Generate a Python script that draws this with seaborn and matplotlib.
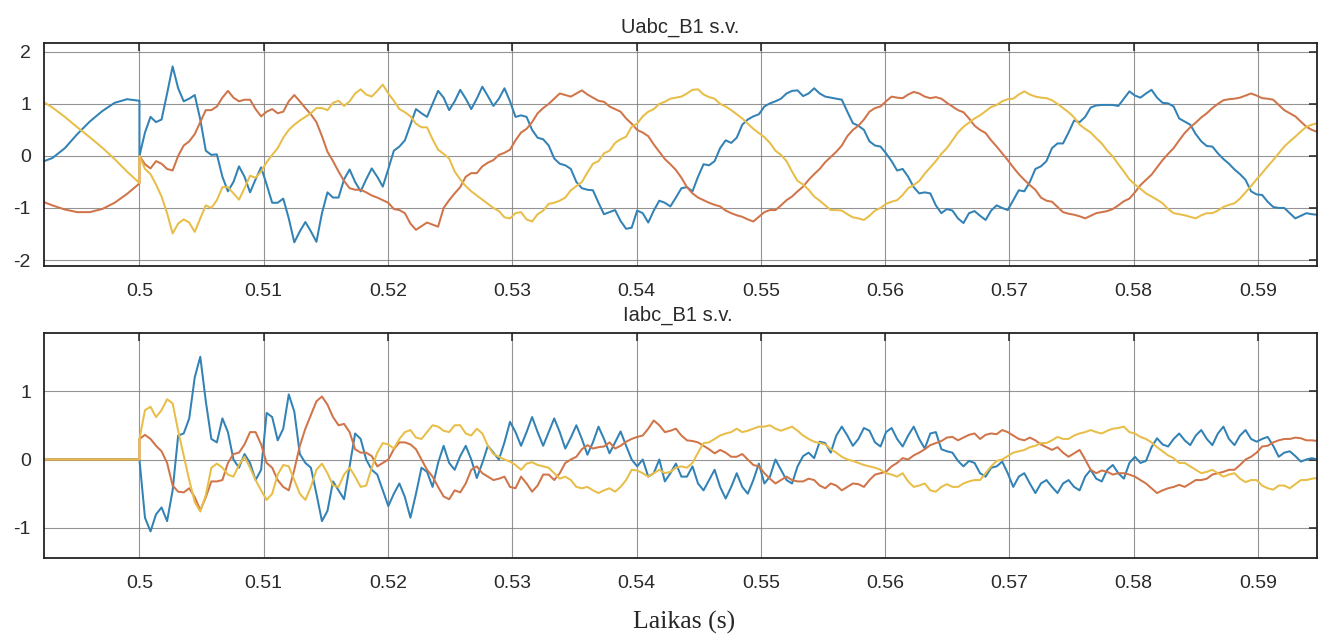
import numpy as np
import pandas as pd
import matplotlib
matplotlib.use("Agg")
import matplotlib.pyplot as plt
import seaborn as sns

# ---------------- data ----------------
# sample times before the event (s)
t_pre = [0.492, 0.493, 0.494, 0.495, 0.496, 0.497, 0.498, 0.499, 0.500]
# sample times after the event: regular 0.445 ms sampling starting at 0.5 s
STEP = 0.000445
N_POST = 214

# voltages before 0.5 s
ua_pre = [-0.13, -0.04, 0.15, 0.42, 0.66, 0.86, 1.02, 1.09, 1.06]
ub_pre = [-0.86, -0.95, -1.03, -1.08, -1.08, -1.02, -0.9, -0.73, -0.53]
uc_pre = [1.08, 0.93, 0.75, 0.55, 0.36, 0.16, -0.06, -0.3, -0.52]
# currents before 0.5 s
ia_pre = [0, 0, 0, 0, 0, 0, 0, 0, 0]
ib_pre = [0, 0, 0, 0, 0, 0, 0, 0, 0]
ic_pre = [0, 0, 0, 0, 0, 0, 0, 0, 0]

ua = [0.0, 0.45, 0.75, 0.65, 0.7, 1.2, 1.72, 1.3, 1.05, 1.1,
      1.17, 0.7, 0.1, 0.02, 0.03, -0.4, -0.68, -0.5, -0.2, -0.4,
      -0.7, -0.45, -0.22, -0.55, -0.9, -0.9, -0.82, -1.2, -1.66, -1.45,
      -1.27, -1.45, -1.65, -1.1, -0.7, -0.8, -0.8, -0.45, -0.26, -0.5,
      -0.68, -0.45, -0.24, -0.4, -0.59, -0.25, 0.1, 0.18, 0.3, 0.6,
      0.9, 0.82, 0.75, 1.0, 1.25, 1.12, 0.88, 1.05, 1.27, 1.1,
      0.9, 1.1, 1.33, 1.15, 0.96, 1.1, 1.3, 1.05, 0.75, 0.78,
      0.75, 0.5, 0.35, 0.32, 0.2, -0.05, -0.15, -0.18, -0.25, -0.5,
      -0.62, -0.65, -0.66, -0.9, -1.12, -1.08, -1.04, -1.25, -1.4, -1.38,
      -1.05, -1.1, -1.28, -1.05, -0.86, -0.9, -0.97, -0.8, -0.62, -0.6,
      -0.68, -0.4, -0.16, -0.18, -0.1, 0.15, 0.3, 0.25, 0.35, 0.6,
      0.7, 0.76, 0.8, 0.95, 1.01, 1.05, 1.1, 1.2, 1.25, 1.26,
      1.15, 1.2, 1.3, 1.2, 1.14, 1.12, 1.1, 1.08, 0.85, 0.63,
      0.58, 0.5, 0.28, 0.2, 0.18, 0.05, -0.1, -0.28, -0.25, -0.4,
      -0.6, -0.72, -0.7, -0.72, -0.95, -1.1, -1.02, -1.05, -1.2, -1.29,
      -1.1, -1.06, -1.15, -1.23, -1.05, -0.95, -1.0, -1.04, -0.85, -0.66,
      -0.68, -0.5, -0.25, -0.2, -0.1, 0.15, 0.24, 0.24, 0.45, 0.68,
      0.65, 0.75, 0.93, 0.97, 0.98, 0.98, 0.98, 0.96, 1.1, 1.24,
      1.16, 1.12, 1.2, 1.27, 1.12, 1.02, 1.01, 0.95, 0.72, 0.66,
      0.6, 0.42, 0.28, 0.19, 0.18, 0.05, -0.06, -0.15, -0.26, -0.35,
      -0.46, -0.68, -0.74, -0.75, -0.88, -0.98, -1.0, -1.0, -1.1, -1.2,
      -1.15, -1.1, -1.12, -1.13]

ub = [0.0, -0.16, -0.24, -0.1, -0.15, -0.25, -0.28, 0.0, 0.2, 0.28,
      0.42, 0.65, 0.88, 0.88, 0.95, 1.12, 1.25, 1.12, 1.05, 1.08,
      1.08, 0.9, 0.76, 0.85, 0.9, 0.82, 0.85, 1.05, 1.17, 1.05,
      0.92, 0.8, 0.65, 0.38, 0.08, -0.1, -0.3, -0.48, -0.62, -0.65,
      -0.65, -0.7, -0.76, -0.8, -0.85, -0.9, -1.02, -1.04, -1.1, -1.3,
      -1.42, -1.35, -1.28, -1.32, -1.36, -1.0, -0.85, -0.72, -0.6, -0.4,
      -0.33, -0.33, -0.2, -0.13, -0.08, 0.02, 0.06, 0.12, 0.3, 0.45,
      0.52, 0.65, 0.82, 0.92, 1.0, 1.1, 1.2, 1.17, 1.14, 1.2,
      1.26, 1.18, 1.12, 1.06, 1.04, 0.95, 0.9, 0.85, 0.72, 0.62,
      0.5, 0.45, 0.38, 0.22, 0.08, -0.06, -0.16, -0.27, -0.42, -0.6,
      -0.72, -0.8, -0.85, -0.9, -0.94, -0.97, -1.05, -1.1, -1.14, -1.17,
      -1.22, -1.26, -1.17, -1.08, -1.04, -1.04, -0.95, -0.85, -0.78, -0.68,
      -0.59, -0.46, -0.35, -0.25, -0.12, -0.02, 0.08, 0.2, 0.38, 0.5,
      0.58, 0.7, 0.85, 0.92, 0.95, 1.05, 1.14, 1.12, 1.11, 1.18,
      1.23, 1.2, 1.14, 1.11, 1.13, 1.1, 1.02, 0.95, 0.88, 0.84,
      0.72, 0.58, 0.5, 0.44, 0.3, 0.18, 0.05, -0.08, -0.22, -0.35,
      -0.46, -0.56, -0.65, -0.8, -0.86, -0.88, -0.98, -1.08, -1.11, -1.13,
      -1.16, -1.2, -1.15, -1.1, -1.08, -1.06, -1.02, -0.95, -0.87, -0.82,
      -0.7, -0.56, -0.46, -0.36, -0.22, -0.08, 0.04, 0.15, 0.3, 0.44,
      0.55, 0.64, 0.74, 0.82, 0.92, 1.0, 1.07, 1.09, 1.1, 1.12,
      1.16, 1.2, 1.16, 1.11, 1.1, 1.08, 0.98, 0.88, 0.82, 0.76,
      0.66, 0.56, 0.5, 0.46]

uc = [0.0, -0.25, -0.35, -0.55, -0.78, -1.1, -1.49, -1.3, -1.22, -1.28,
      -1.46, -1.2, -0.95, -1.0, -0.85, -0.6, -0.6, -0.72, -0.84, -0.62,
      -0.38, -0.42, -0.3, -0.12, 0.02, 0.15, 0.35, 0.5, 0.6, 0.68,
      0.75, 0.82, 0.92, 0.92, 0.88, 1.02, 1.06, 0.96, 1.05, 1.2,
      1.28, 1.18, 1.14, 1.25, 1.37, 1.2, 1.06, 0.9, 0.84, 0.76,
      0.62, 0.55, 0.55, 0.32, 0.12, 0.04, -0.05, -0.3, -0.45, -0.58,
      -0.68, -0.76, -0.84, -0.92, -1.0, -1.06, -1.18, -1.2, -1.1, -1.08,
      -1.22, -1.26, -1.12, -1.05, -0.92, -0.9, -0.86, -0.8, -0.66, -0.58,
      -0.5, -0.32, -0.15, -0.1, 0.05, 0.1, 0.25, 0.32, 0.37, 0.56,
      0.62, 0.76, 0.85, 0.9, 1.0, 1.04, 1.1, 1.12, 1.14, 1.2,
      1.27, 1.28, 1.18, 1.13, 1.1, 1.0, 0.95, 0.88, 0.8, 0.72,
      0.62, 0.52, 0.44, 0.36, 0.25, 0.1, 0.02, -0.1, -0.3, -0.48,
      -0.55, -0.65, -0.78, -0.86, -0.95, -1.04, -1.04, -1.05, -1.12, -1.18,
      -1.2, -1.23, -1.15, -1.05, -1.0, -0.92, -0.88, -0.85, -0.75, -0.62,
      -0.56, -0.48, -0.34, -0.22, -0.1, 0.04, 0.15, 0.3, 0.45, 0.56,
      0.64, 0.72, 0.78, 0.86, 0.94, 0.98, 1.05, 1.09, 1.1, 1.18,
      1.24, 1.18, 1.14, 1.12, 1.11, 1.07, 1.0, 0.92, 0.84, 0.74,
      0.6, 0.52, 0.45, 0.34, 0.24, 0.1, -0.01, -0.16, -0.3, -0.45,
      -0.55, -0.63, -0.72, -0.78, -0.84, -0.91, -1.02, -1.1, -1.12, -1.14,
      -1.17, -1.2, -1.14, -1.1, -1.1, -1.05, -0.98, -0.94, -0.91, -0.82,
      -0.7, -0.58, -0.45, -0.33, -0.2, -0.08, 0.05, 0.18, 0.28, 0.37,
      0.47, 0.56, 0.6, 0.63]

ia = [0.0, -0.85, -1.05, -0.8, -0.7, -0.9, -0.45, 0.35, 0.38, 0.6,
      1.2, 1.5, 0.85, 0.3, 0.25, 0.6, 0.4, 0.0, -0.12, 0.08,
      -0.05, -0.3, -0.15, 0.68, 0.62, 0.28, 0.45, 0.95, 0.7, 0.08,
      -0.05, -0.12, -0.5, -0.9, -0.75, -0.32, -0.45, -0.58, -0.1, 0.38,
      0.3, 0.0, -0.15, -0.22, -0.45, -0.68, -0.5, -0.35, -0.55, -0.85,
      -0.5, -0.12, -0.18, -0.4, -0.05, 0.2, -0.05, -0.15, 0.05, 0.2,
      0.0, -0.27, -0.05, 0.2, 0.1, 0.0, 0.25, 0.55, 0.4, 0.2,
      0.4, 0.62, 0.4, 0.2, 0.4, 0.6, 0.4, 0.16, 0.32, 0.5,
      0.3, 0.07, 0.25, 0.48, 0.3, 0.09, 0.25, 0.41, 0.2, 0.0,
      -0.1, 0.0, -0.25, -0.2, 0.0, -0.32, -0.2, -0.06, -0.25, -0.25,
      -0.1, -0.35, -0.45, -0.3, -0.15, -0.4, -0.57, -0.4, -0.2, -0.4,
      -0.5, -0.3, -0.06, -0.35, -0.25, 0.0, -0.15, -0.3, -0.35, -0.1,
      0.05, 0.1, 0.02, 0.26, 0.24, 0.1, 0.35, 0.48, 0.35, 0.2,
      0.3, 0.46, 0.42, 0.25, 0.19, 0.4, 0.46, 0.3, 0.19, 0.35,
      0.48, 0.3, 0.16, 0.38, 0.4, 0.15, 0.12, 0.1, -0.02, -0.1,
      -0.02, -0.05, -0.2, -0.25, -0.12, -0.1, -0.03, -0.2, -0.4, -0.25,
      -0.2, -0.35, -0.49, -0.35, -0.3, -0.4, -0.49, -0.35, -0.3, -0.4,
      -0.45, -0.25, -0.15, -0.28, -0.32, -0.15, -0.08, -0.2, -0.28, -0.05,
      0.04, -0.05, -0.02, 0.18, 0.31, 0.22, 0.19, 0.3, 0.38, 0.28,
      0.21, 0.35, 0.43, 0.3, 0.21, 0.38, 0.48, 0.3, 0.21, 0.35,
      0.43, 0.3, 0.26, 0.3, 0.33, 0.2, 0.04, 0.1, 0.12, 0.05,
      -0.03, 0.0, 0.02, 0.0]

ib = [0.3, 0.36, 0.3, 0.2, 0.12, -0.05, -0.38, -0.47, -0.48, -0.42,
      -0.55, -0.74, -0.55, -0.32, -0.32, -0.3, -0.05, 0.08, 0.1, 0.22,
      0.4, 0.4, 0.22, -0.05, -0.12, -0.3, -0.4, -0.45, -0.15, 0.2,
      0.45, 0.65, 0.85, 0.92, 0.8, 0.62, 0.5, 0.52, 0.4, 0.15,
      0.1, 0.1, 0.05, -0.1, -0.05, 0.0, 0.15, 0.25, 0.25, 0.22,
      0.15, 0.0, -0.15, -0.25, -0.4, -0.54, -0.58, -0.45, -0.48, -0.35,
      -0.15, -0.1, -0.2, -0.25, -0.3, -0.28, -0.25, -0.4, -0.42, -0.25,
      -0.35, -0.47, -0.38, -0.22, -0.22, -0.3, -0.2, -0.05, 0.0, 0.04,
      0.15, 0.21, 0.16, 0.18, 0.19, 0.25, 0.16, 0.2, 0.26, 0.3,
      0.33, 0.35, 0.45, 0.57, 0.5, 0.4, 0.42, 0.45, 0.35, 0.28,
      0.27, 0.25, 0.2, 0.15, 0.09, 0.14, 0.1, 0.04, 0.04, 0.08,
      0.0, -0.08, -0.1, -0.2, -0.28, -0.35, -0.3, -0.25, -0.3, -0.32,
      -0.32, -0.28, -0.3, -0.38, -0.42, -0.35, -0.38, -0.45, -0.4, -0.35,
      -0.36, -0.4, -0.3, -0.22, -0.2, -0.18, -0.1, -0.05, 0.02, 0.0,
      0.06, 0.1, 0.15, 0.21, 0.24, 0.27, 0.32, 0.33, 0.28, 0.32,
      0.36, 0.38, 0.3, 0.36, 0.38, 0.37, 0.43, 0.4, 0.35, 0.3,
      0.28, 0.32, 0.28, 0.22, 0.18, 0.14, 0.18, 0.1, 0.04, 0.09,
      0.14, 0.0, -0.15, -0.2, -0.16, -0.18, -0.22, -0.2, -0.2, -0.22,
      -0.25, -0.3, -0.35, -0.42, -0.49, -0.45, -0.42, -0.4, -0.37, -0.4,
      -0.35, -0.3, -0.3, -0.28, -0.22, -0.2, -0.18, -0.15, -0.15, -0.08,
      0.0, 0.04, 0.1, 0.19, 0.2, 0.25, 0.28, 0.3, 0.3, 0.32,
      0.31, 0.28, 0.28, 0.27]

ic = [0.3, 0.72, 0.77, 0.62, 0.72, 0.88, 0.82, 0.42, 0.06, -0.3,
      -0.62, -0.76, -0.52, -0.12, -0.06, -0.12, -0.22, -0.25, -0.08, 0.04,
      -0.12, -0.3, -0.45, -0.59, -0.5, -0.22, -0.08, -0.1, -0.3, -0.5,
      -0.59, -0.4, -0.15, -0.06, -0.2, -0.38, -0.4, -0.22, -0.12, -0.25,
      -0.4, -0.38, -0.12, 0.1, 0.24, 0.22, 0.16, 0.3, 0.4, 0.43,
      0.32, 0.3, 0.4, 0.5, 0.48, 0.42, 0.4, 0.5, 0.5, 0.38,
      0.35, 0.45, 0.38, 0.2, 0.08, 0.04, 0.0, -0.03, -0.08, -0.15,
      -0.06, -0.04, -0.08, -0.1, -0.12, -0.2, -0.28, -0.25, -0.3, -0.4,
      -0.42, -0.4, -0.45, -0.49, -0.45, -0.42, -0.47, -0.4, -0.3, -0.15,
      -0.16, -0.2, -0.25, -0.2, -0.15, -0.2, -0.18, -0.12, -0.1, -0.12,
      -0.05, 0.1, 0.24, 0.25, 0.3, 0.35, 0.38, 0.4, 0.45, 0.4,
      0.42, 0.45, 0.48, 0.48, 0.5, 0.45, 0.42, 0.45, 0.48, 0.42,
      0.35, 0.3, 0.26, 0.24, 0.22, 0.15, 0.1, 0.04, 0.0, -0.02,
      -0.05, -0.08, -0.1, -0.12, -0.15, -0.2, -0.22, -0.25, -0.2, -0.32,
      -0.4, -0.38, -0.35, -0.45, -0.47, -0.4, -0.36, -0.4, -0.4, -0.35,
      -0.32, -0.3, -0.3, -0.2, -0.1, -0.02, 0.0, 0.05, 0.1, 0.12,
      0.14, 0.18, 0.2, 0.24, 0.24, 0.28, 0.33, 0.3, 0.3, 0.35,
      0.38, 0.4, 0.43, 0.4, 0.38, 0.42, 0.45, 0.46, 0.48, 0.4,
      0.38, 0.33, 0.3, 0.25, 0.18, 0.12, 0.06, 0.02, -0.05, -0.05,
      -0.1, -0.15, -0.2, -0.18, -0.15, -0.2, -0.25, -0.22, -0.2, -0.28,
      -0.33, -0.3, -0.3, -0.38, -0.42, -0.44, -0.38, -0.38, -0.42, -0.36,
      -0.3, -0.3, -0.28, -0.27]

phases = ["a", "b", "c"]
titles = ["Uabc_B1 s.v.", "Iabc_B1 s.v."]
x_ticks = [0.50, 0.51, 0.52, 0.53, 0.54, 0.55, 0.56, 0.57, 0.58, 0.59]
x_tick_labels = ["0.5", "0.51", "0.52", "0.53", "0.54", "0.55", "0.56", "0.57", "0.58", "0.59"]
top_y_ticks = [-2, -1, 0, 1, 2]
bot_y_ticks = [-1, 0, 1]
x_label = "Laikas (s)"

# ---------------- styling ----------------
colors = {"a": "#3282b5", "b": "#d0744a", "c": "#e8be48"}

sns.set_theme(style="white")
plt.rcParams["font.family"] = ["Liberation Sans", "DejaVu Sans"]
plt.rcParams["axes.unicode_minus"] = False

t_post = 0.5 + STEP * np.arange(N_POST)
t_all = np.concatenate([np.array(t_pre), t_post])


def make_df(pre_list, post_list):
    rows = []
    for ph, pre, post in zip(phases, pre_list, post_list):
        v = np.concatenate([np.array(pre, float), np.array(post, float)])
        rows.append(pd.DataFrame({"t": t_all, "v": v, "phase": ph}))
    return pd.concat(rows, ignore_index=True)


df_u = make_df([ua_pre, ub_pre, uc_pre], [ua, ub, uc])
df_i = make_df([ia_pre, ib_pre, ic_pre], [ia, ib, ic])

W, H = 1326, 637
fig = plt.figure(figsize=(W / 100, H / 100), dpi=100)
fig.patch.set_facecolor("white")

left_px, right_px = 43.5, 1317
ax_top = fig.add_axes([left_px / W, 1 - 266 / H, (right_px - left_px) / W, 223 / H])
ax_bot = fig.add_axes([left_px / W, 1 - 558 / H, (right_px - left_px) / W, 225 / H])

for ax, df in ((ax_top, df_u), (ax_bot, df_i)):
    for ph in phases:
        sub = df[df["phase"] == ph]
        sns.lineplot(data=sub, x="t", y="v", ax=ax, color=colors[ph],
                     linewidth=1.45, estimator=None, sort=False, legend=False,
                     solid_joinstyle="round", solid_capstyle="round")

for ax, yt, ylim in ((ax_top, top_y_ticks, (-2.115, 2.17)),
                     (ax_bot, bot_y_ticks, (-1.438, 1.847))):
    ax.set_xlim(0.49228, 0.59475)
    ax.set_ylim(*ylim)
    ax.set_xticks(x_ticks)
    ax.set_xticklabels(x_tick_labels)
    ax.set_yticks(yt)
    ax.set_yticklabels([str(v) for v in yt])
    ax.set_xlabel("")
    ax.set_ylabel("")
    ax.grid(True, color="#7a7a7a", linewidth=0.8, alpha=0.8)
    ax.set_axisbelow(True)
    for s in ax.spines.values():
        s.set_color("#222222")
        s.set_linewidth(1.3)
    ax.tick_params(axis="both", direction="in", length=6, width=1.1,
                   top=True, right=True, colors="#222222",
                   labelsize=14, labelcolor="#2a2a2a")
    ax.tick_params(axis="x", pad=12)
    ax.tick_params(axis="y", pad=9)
    ax.set_facecolor("white")

fig.text(680 / W, 1 - 27 / H, titles[0], ha="center", va="center",
         fontsize=14.5, color="#2a2a2a")
fig.text(678 / W, 1 - 315 / H, titles[1], ha="center", va="center",
         fontsize=14.5, color="#2a2a2a")
fig.text(684 / W, 1 - 622 / H, x_label, ha="center", va="center",
         fontsize=18.5, color="#262626",
         family=["Liberation Serif", "DejaVu Serif"])

fig.savefig("out.png", dpi=100, facecolor="white")
